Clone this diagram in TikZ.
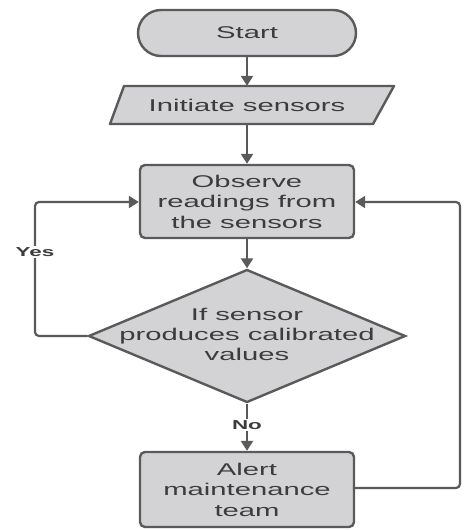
\documentclass[tikz,border=0pt]{standalone}
\usepackage{fontspec}
\setmainfont[FakeStretch=1.72]{Liberation Sans}
\usetikzlibrary{arrows.meta,shapes.geometric}
\definecolor{boxfill}{HTML}{D3D3D6}
\definecolor{edge}{HTML}{5A5A5A}
\definecolor{txt}{HTML}{3C3C3C}
\tikzset{
  base/.style={draw=edge, line width=2.4pt, fill=boxfill, text=txt, align=center,
    font=\fontsize{17}{20.5}\selectfont, inner sep=0pt},
  procbox/.style={base, rounded corners=5pt, minimum width=214pt, minimum height=74pt},
  conn/.style={draw=edge, line width=2.2pt, -{Triangle[length=10pt,width=12pt]}},
  lbl/.style={fill=white, text=txt, font=\fontsize{13}{15}\selectfont\bfseries, inner sep=1pt}
}
\begin{document}
\begin{tikzpicture}[x=1pt,y=-1pt]
\useasboundingbox (0,0) rectangle (473,530);
\node[base, rounded corners=23pt, minimum width=218pt, minimum height=46pt] (start) at (247,33) {Start};
\fill[boxfill] (124,86) -- (394,86) -- (373,124) -- (110,124) -- cycle;
\draw[edge, line width=2.4pt, line join=round] (124,86) -- (394,86) -- (373,124) -- (110,124) -- cycle;
\node[text=txt, font=\fontsize{17}{20.5}\selectfont, minimum width=240pt, minimum height=38pt, inner sep=0pt] (init) at (247,105) {Initiate sensors};
\node[procbox, minimum height=73pt] (obs) at (247,201.5) {Observe\\readings from\\the sensors};
\node[base, shape=diamond, minimum width=317pt, minimum height=133pt] (dec) at (247,336) {};
\node[text=txt, align=center, font=\fontsize{17}{20}\selectfont] (dectext) at (247,334) {If sensor\\produces calibrated\\values};
\node[procbox, minimum height=75pt] (alert) at (247,489.5) {Alert\\maintenance\\team};
\draw[conn] (start) -- (init);
\draw[conn] (init) -- (obs);
\draw[conn] (obs) -- (dec.north);
\coordinate (yl) at (35,336);
\coordinate (yt) at (35,202);
\draw[conn, rounded corners=4pt] (dec.west) -- (yl) -- (yt) -- (obs.west |- yt);
\node[lbl] (yes) at (35,252) {Yes};
\coordinate (rb) at (460,488);
\coordinate (rt) at (460,202);
\draw[conn, rounded corners=4pt] (alert.east |- rb) -- (rb) -- (rt) -- (obs.east |- rt);
\draw[conn] (dec.south) -- (alert.north);
\node[lbl] (no) at (247,425) {No};
\end{tikzpicture}
\end{document}
